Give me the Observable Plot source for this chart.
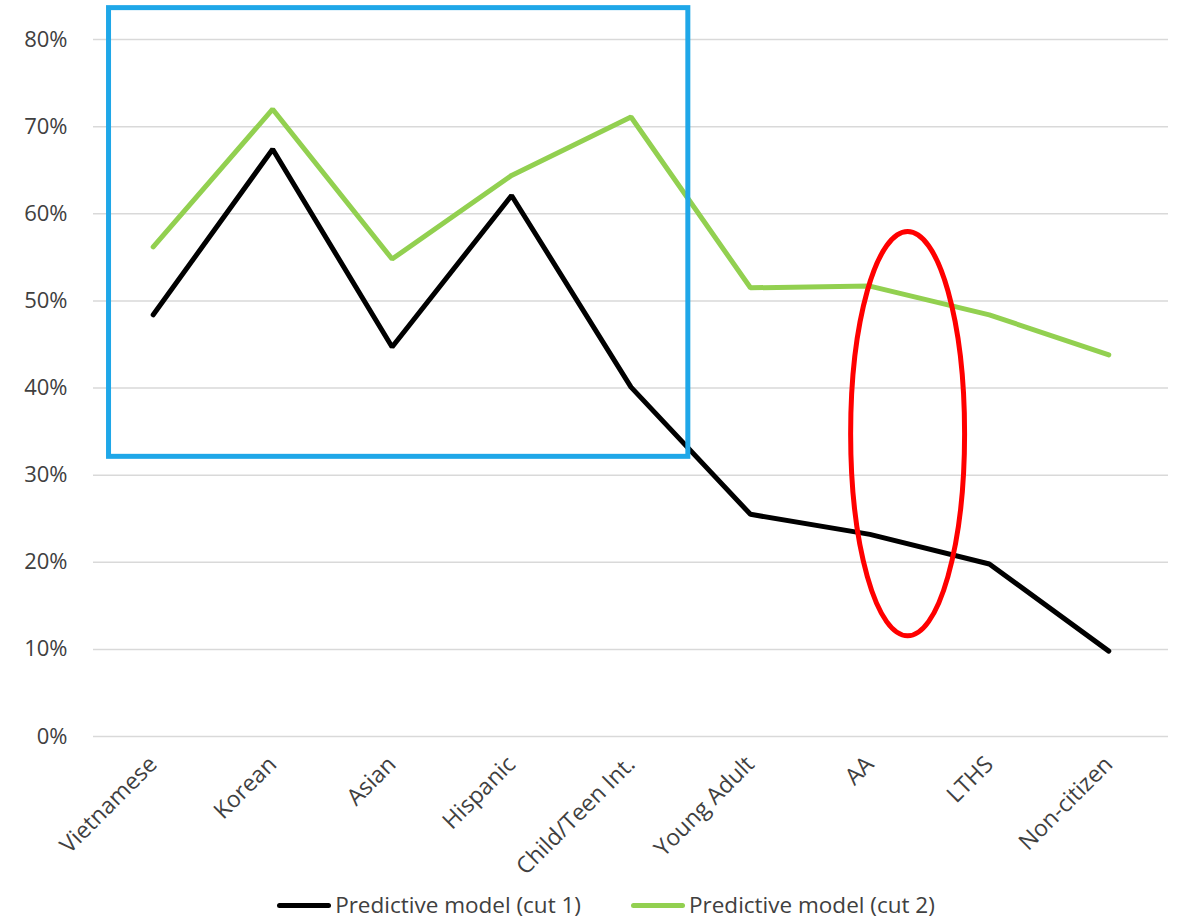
<!DOCTYPE html>
<html>
<head>
<meta charset="utf-8">
<script src="https://cdn.jsdelivr.net/npm/d3@7"></script>
<script src="https://cdn.jsdelivr.net/npm/@observablehq/plot@0.6"></script>
<style>
  html, body { margin: 0; padding: 0; background: #fff; }
  body { width: 1178px; height: 923px; overflow: hidden; font-family: "Open Sans", sans-serif; }
  #legend { display: flex; justify-content: center; align-items: center; gap: 50px; height: 40px; padding-top: 6px; padding-left: 34px; font-size: 22.5px; line-height: 26px; color: #404040; }
  .item { display: flex; align-items: center; }
  .sw { width: 54px; height: 5px; border-radius: 3px; margin-right: 4px; }
</style>
</head>
<body>
<div id="chart"></div>
<div id="legend"></div>
<script>
const categories = ["Vietnamese", "Korean", "Asian", "Hispanic", "Child/Teen Int.", "Young Adult", "AA", "LTHS", "Non-citizen"];
const cut1 = [0.484, 0.674, 0.447, 0.621, 0.401, 0.255, 0.232, 0.198, 0.098];
const cut2 = [0.562, 0.720, 0.548, 0.644, 0.711, 0.515, 0.517, 0.484, 0.438];
const seriesNames = ["Predictive model (cut 1)", "Predictive model (cut 2)"];
const seriesColors = ["#000000", "#92D050"];
const yTicks = [0, 0.1, 0.2, 0.3, 0.4, 0.5, 0.6, 0.7, 0.8];
// annotations in data units (category index, share)
const boxX = [-0.37, 4.48];
const boxY = [0.321, 0.836];
const ellipseC = [6.32, 0.347];
const ellipseR = [0.477, 0.232];

const rows = [];
[cut1, cut2].forEach((s, k) => s.forEach((v, i) => rows.push({i, v, series: seriesNames[k]})));

const ellipseMark = (index, scales) => {
  const x = scales.x, y = scales.y;
  const cx = x(ellipseC[0]), cy = y(ellipseC[1]);
  const rx = Math.abs(x(ellipseC[0] + ellipseR[0]) - cx);
  const ry = Math.abs(y(ellipseC[1] + ellipseR[1]) - cy);
  const e = document.createElementNS("http://www.w3.org/2000/svg", "ellipse");
  e.setAttribute("cx", cx); e.setAttribute("cy", cy);
  e.setAttribute("rx", rx); e.setAttribute("ry", ry);
  e.setAttribute("fill", "none"); e.setAttribute("stroke", "#FF0000"); e.setAttribute("stroke-width", 5);
  return e;
};

const chart = Plot.plot({
  width: 1178,
  height: 879,
  marginLeft: 93,
  marginRight: 10,
  marginTop: 39,
  marginBottom: 143,
  style: {fontFamily: "Open Sans, sans-serif", fontSize: "20px", color: "#404040", background: "#fff", overflow: "visible"},
  x: {type: "linear", domain: [-0.5, 8.5], axis: null},
  y: {domain: [0, 0.8], axis: null},
  color: {domain: seriesNames, range: seriesColors},
  marks: [
    Plot.ruleY(yTicks, {stroke: "#d9d9d9", strokeWidth: 1.5}),
    Plot.axisY(yTicks, {tickSize: 0, tickPadding: 26, tickFormat: d3.format(".0%"), label: null, fontSize: 22, fill: "#404040"}),
    Plot.axisX(d3.range(categories.length), {tickSize: 0, tickPadding: 24, tickRotate: -45, tickFormat: i => categories[i], label: null, fontSize: 23, fill: "#404040"}),
    Plot.line(rows, {x: "i", y: "v", z: "series", stroke: "series", strokeWidth: 5, strokeLinejoin: "miter", strokeLinecap: "round"}),
    Plot.rect([{}], {x1: boxX[0], x2: boxX[1], y1: boxY[0], y2: boxY[1], fill: "none", stroke: "#1FA7E8", strokeWidth: 5}),
    ellipseMark
  ]
});
document.getElementById("chart").appendChild(chart);

const legend = document.getElementById("legend");
seriesNames.forEach((n, k) => {
  const it = document.createElement("div"); it.className = "item";
  const sw = document.createElement("div"); sw.className = "sw"; sw.style.background = seriesColors[k];
  const tx = document.createElement("span"); tx.textContent = n;
  it.appendChild(sw); it.appendChild(tx); legend.appendChild(it);
});
</script>
</body>
</html>
